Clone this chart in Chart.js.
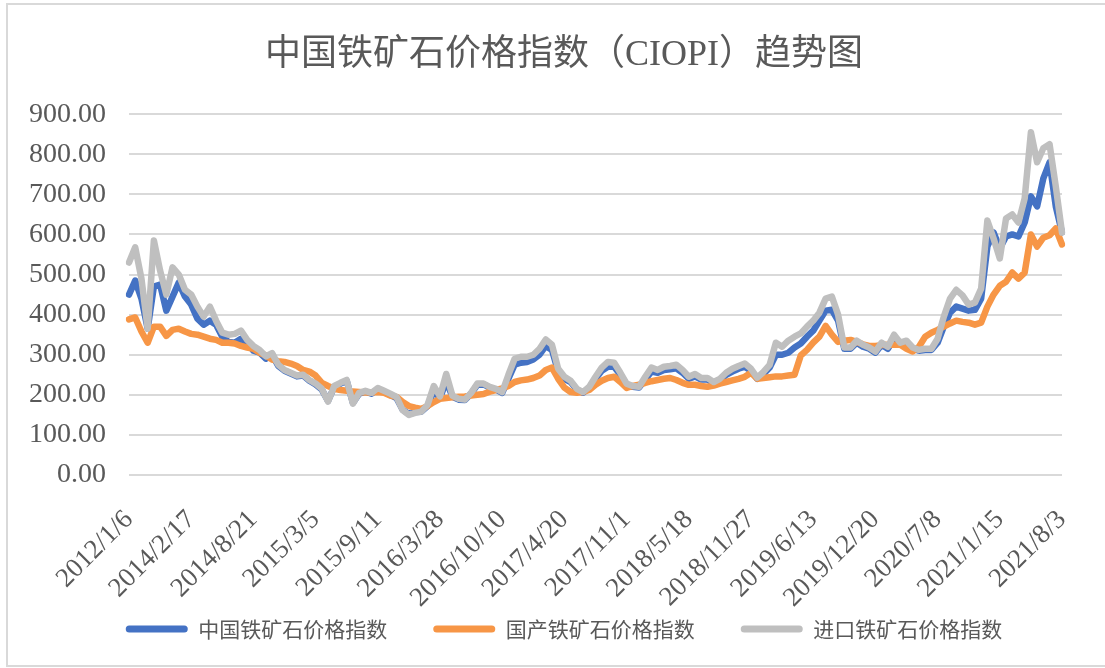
<!DOCTYPE html>
<html>
<head>
<meta charset="utf-8">
<script src="https://cdn.jsdelivr.net/npm/chart.js@4.4.0/dist/chart.umd.min.js"></script>
<style>
html, body { margin: 0; padding: 0; background: #fff; overflow: hidden; }
#frame { position: absolute; left: 6px; top: 3px; width: 1110px; height: 660px; border: 2px solid #d9d9d9; }
#wrap { position: absolute; left: 0; top: 0; width: 1108px; height: 668px; }
</style>
</head>
<body>
<div id="frame"></div>
<div id="wrap"><canvas id="chart"></canvas></div>
<script>
// tick labels shown on the date axis (one every 10 points)
const tickLabels = ['2012/1/6', '2014/2/17', '2014/8/21', '2015/3/5', '2015/9/11', '2016/3/28',
    '2016/10/10', '2017/4/20', '2017/11/1', '2018/5/18', '2018/11/27', '2019/6/13',
    '2019/12/20', '2020/7/8', '2021/1/15', '2021/8/3'];

// 中国铁矿石价格指数
const ciopi = [
    450, 485, 440, 365, 470, 475, 410, 445, 480, 445,
    425, 390, 375, 385, 375, 345, 332, 330, 340, 330,
    310, 305, 290, 300, 272, 260, 253, 246, 248, 235,
    226, 213, 185, 220, 228, 235, 180, 203, 208, 203,
    214, 208, 200, 192, 163, 152, 157, 158, 172, 210,
    192, 235, 195, 188, 187, 203, 225, 226, 218, 213,
    205, 240, 275, 280, 282, 288, 300, 322, 312, 258,
    240, 232, 213, 205, 218, 240, 260, 270, 270, 250,
    225, 220, 218, 238, 258, 255, 262, 264, 266, 255,
    240, 246, 238, 238, 230, 236, 250, 258, 265, 270,
    260, 240, 252, 268, 300, 300, 305, 318, 328, 345,
    360, 385, 410, 412, 385, 315, 315, 330, 320, 315,
    305, 325, 315, 340, 325, 330, 315, 310, 312, 312,
    330, 370, 405, 420, 415, 410, 412, 440, 570, 605,
    565, 595, 600, 595, 630, 695, 670, 740, 780, 670,
    605
];

// 国产铁矿石价格指数
const domestic = [
    388, 393, 358, 330, 370, 370, 347, 362, 365, 358,
    352, 350, 345, 340, 337, 330, 330, 328, 322, 318,
    315, 305, 298, 288, 284, 282, 278, 272, 262, 258,
    248, 230, 222, 215, 212, 210, 208, 207, 206, 206,
    207, 205, 198, 195, 182, 172, 168, 165, 172, 182,
    190, 192, 194, 195, 196, 198, 200, 202, 208, 212,
    216, 222, 232, 236, 238, 242, 248, 262, 268, 240,
    218, 207, 205, 207, 212, 225, 235, 242, 245, 232,
    217, 222, 225, 230, 234, 237, 240, 242, 237, 230,
    225, 225, 222, 220, 223, 228, 232, 236, 240, 245,
    255, 240, 242, 244, 246, 246, 248, 250, 298, 312,
    330, 345, 372, 350, 332, 335, 337, 332, 326, 322,
    322, 324, 325, 325, 325, 315, 308, 320, 345, 355,
    362, 370, 378, 385, 382, 380, 375, 380, 420, 450,
    472, 482, 505, 490, 505, 600, 570, 592, 598, 615,
    575
];

// 进口铁矿石价格指数
const imported = [
    530, 568, 490, 365, 585, 510, 450, 518, 500, 462,
    450, 420, 395, 420, 385, 355, 350, 352, 360, 337,
    322, 312, 296, 304, 275, 262, 255, 248, 250, 237,
    228, 215, 183, 222, 230, 237, 178, 205, 210, 205,
    217, 210, 203, 195, 162, 150, 155, 158, 175, 222,
    196, 252, 198, 190, 188, 205, 228, 228, 220, 215,
    207, 250, 290, 295, 295, 300, 315, 338, 325, 265,
    245, 235, 215, 207, 220, 245, 268, 282, 280, 255,
    228, 222, 220, 245, 268, 262, 270, 272, 275, 262,
    245, 252, 242, 242, 232, 240, 255, 265, 272, 278,
    265, 243, 257, 275, 330, 320, 335, 345, 353, 370,
    385, 405, 440, 445, 400, 318, 318, 335, 325, 318,
    308, 330, 320, 350, 330, 335, 318, 312, 315, 315,
    340, 395, 440, 462, 448, 425, 430, 465, 635, 590,
    540, 640, 650, 630, 690, 855, 780, 815, 825, 720,
    605
];

const categories = ciopi.map((_, i) => i % 10 === 0 ? tickLabels[i / 10] : '');

const textColor = '#595959';
const serif = '"Liberation Serif", "Noto Sans CJK SC", serif';
const cjk = '"Noto Sans CJK SC", sans-serif';

// legend padding is also used vertically, so reserve a short box and lift the row
const legendTweak = {
    id: 'legendTweak',
    afterInit(chart) {
        const legend = chart.legend;
        const fit = legend.fit;
        legend.fit = function () {
            fit.call(this);
            this.height = 35;
        };
    },
    afterLayout(chart) {
        const legend = chart.legend;
        legend.top = 572.5;
        legend.height = 80;
        legend.bottom = legend.top + 80;
    }
};

const ctx = document.getElementById('chart').getContext('2d');
new Chart(ctx, {
    type: 'line',
    data: {
        labels: categories,
        datasets: [
            { label: '中国铁矿石价格指数', data: ciopi, borderColor: '#4472C4', backgroundColor: '#4472C4', order: 3 },
            { label: '国产铁矿石价格指数', data: domestic, borderColor: '#F79646', backgroundColor: '#F79646', order: 2 },
            { label: '进口铁矿石价格指数', data: imported, borderColor: '#BFBFBF', backgroundColor: '#BFBFBF', order: 1 }
        ]
    },
    options: {
        responsive: true,
        maintainAspectRatio: false,
        animation: false,
        layout: { padding: { left: 20, right: 0, top: 10, bottom: 18 } },
        elements: {
            line: { borderWidth: 6.5, tension: 0, borderJoinStyle: 'round', borderCapStyle: 'round' },
            point: { radius: 0 }
        },
        scales: {
            x: {
                afterFit: scale => { scale.height = 140; },
                grid: { display: false },
                border: { display: false },
                ticks: {
                    autoSkip: false,
                    maxRotation: 45,
                    minRotation: 45,
                    padding: 21,
                    color: textColor,
                    font: { family: serif, size: 27 },
                    callback: (v, i) => categories[i]
                }
            },
            y: {
                min: 0,
                max: 900,
                afterFit: scale => { scale.width = 109; },
                border: { display: false },
                grid: { color: '#d9d9d9', lineWidth: 2, drawTicks: false },
                ticks: {
                    stepSize: 100,
                    padding: 23,
                    color: textColor,
                    font: { family: serif, size: 28 },
                    callback: v => v.toFixed(2)
                }
            },
            // empty right-hand box so the title and legend centre where the reference does
            spacer: {
                position: 'right',
                afterFit: scale => { scale.width = 46; },
                grid: { display: false },
                border: { display: false },
                ticks: { display: false }
            }
        },
        plugins: {
            title: {
                display: true,
                text: '中国铁矿石价格指数（CIOPI）趋势图',
                color: textColor,
                font: { family: serif, size: 36, weight: 'normal' },
                padding: { top: 24, bottom: 37 }
            },
            legend: {
                position: 'bottom',
                labels: {
                    boxWidth: 62,
                    boxHeight: 7,
                    useBorderRadius: true,
                    borderRadius: 3.5,
                    padding: 46,
                    color: textColor,
                    font: { family: cjk, size: 21 },
                    sort: (a, b) => a.datasetIndex - b.datasetIndex,
                    generateLabels: chart => Chart.defaults.plugins.legend.labels.generateLabels(chart)
                        .map(l => Object.assign(l, { lineWidth: 0 }))
                }
            },
            tooltip: { enabled: false }
        }
    },
    plugins: [legendTweak]
});
</script>
</body>
</html>
